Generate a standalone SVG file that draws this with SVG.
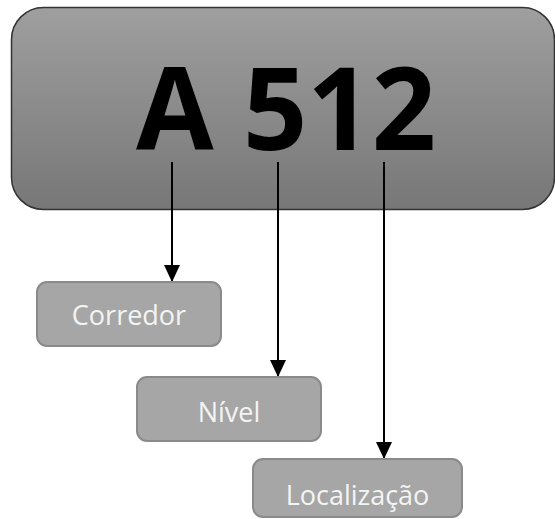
<svg xmlns="http://www.w3.org/2000/svg" width="555" height="519" viewBox="0 0 555 519">
<defs>
<linearGradient id="g" x1="0" y1="0" x2="0" y2="1">
<stop offset="0" stop-color="#9f9f9f"/>
<stop offset="1" stop-color="#777777"/>
</linearGradient>
<marker id="ah" markerUnits="userSpaceOnUse" markerWidth="18" markerHeight="18" viewBox="0 0 18 18" refX="17" refY="9" orient="auto">
<path d="M0,1 L17,9 L0,17 Z" fill="#000"/>
</marker>
<style>
.box{fill:#a6a6a6;stroke:#8a8a8a;stroke-width:2}
.lbl{font-family:"Open Sans","Liberation Sans",sans-serif;font-size:27px;fill:#f4f4f4;text-anchor:middle}
.conn{stroke:#000;stroke-width:2;fill:none;marker-end:url(#ah)}
</style>
</defs>
<rect width="555" height="519" fill="#fff"/>
<g id="code">
<rect x="11.5" y="7.5" width="543" height="202" rx="32" ry="32" fill="url(#g)" stroke="#333" stroke-width="1.5"/>
<text x="286" y="150" font-family="'Open Sans','Liberation Sans',sans-serif" font-weight="bold" font-size="115" text-anchor="middle" textLength="300" lengthAdjust="spacingAndGlyphs" fill="#000">A 512</text>
</g>
<g id="connectors">
<line class="conn" x1="172" y1="162" x2="172" y2="282"/>
<line class="conn" x1="278" y1="162" x2="278" y2="377"/>
<line class="conn" x1="384" y1="162" x2="384" y2="459"/>
</g>
<g id="corredor">
<rect class="box" x="37" y="282" width="184" height="64" rx="10"/>
<text class="lbl" x="129" y="325">Corredor</text>
</g>
<g id="nivel">
<rect class="box" x="137" y="377" width="184" height="64" rx="10"/>
<text class="lbl" x="229" y="422">Nível</text>
</g>
<g id="localizacao">
<rect class="box" x="253" y="459" width="209" height="58" rx="10"/>
<text class="lbl" x="357.5" y="505">Localização</text>
</g>
</svg>
